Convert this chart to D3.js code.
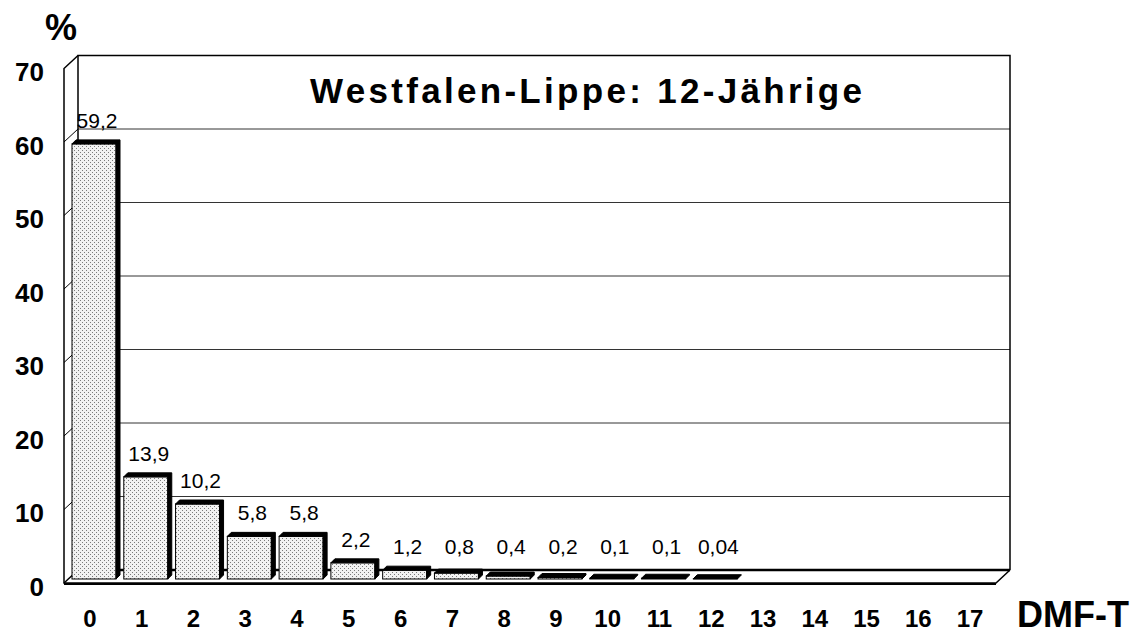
<!DOCTYPE html>
<html>
<head>
<meta charset="utf-8">
<script src="https://cdn.jsdelivr.net/npm/d3@7"></script>
<style>
  body { margin: 0; background: #fff; }
  text { font-family: Arial, "Liberation Sans", sans-serif; }
</style>
</head>
<body>
<div id="chart"></div>
<script>
// data
const categories = d3.range(0, 18).map(String);
const values = [59.2, 13.9, 10.2, 5.8, 5.8, 2.2, 1.2, 0.8, 0.4, 0.2, 0.1, 0.1, 0.04];
const yTicks = [0, 10, 20, 30, 40, 50, 60, 70];
const title = "Westfalen-Lippe: 12-Jährige";

const W = 1135, H = 636;
// back wall box and 3d depth
const back = {left: 78, right: 1010, top: 55.5, bottom: 570};
const depth = {dx: -14, dy: 13};

const svg = d3.select('#chart')
  .append('svg')
  .attr('width', W)
  .attr('height', H);

// stipple pattern for bars
const pat = svg.append('defs').append('pattern')
  .attr('id', 'dots')
  .attr('width', 4).attr('height', 4)
  .attr('patternUnits', 'userSpaceOnUse');
pat.append('rect').attr('width', 4).attr('height', 4).attr('fill', '#f2f2f2');
pat.append('rect').attr('x', 0).attr('y', 0).attr('width', 1).attr('height', 1).attr('fill', '#7a7a7a');
pat.append('rect').attr('x', 2).attr('y', 2).attr('width', 1).attr('height', 1).attr('fill', '#7a7a7a');

const y = d3.scaleLinear()
  .domain([0, 70])
  .range([back.bottom, back.top]);

const x = d3.scaleBand()
  .domain(categories)
  .range([back.left + depth.dx, back.right + depth.dx]);

// gridlines on back wall
svg.append('g')
  .selectAll('line')
  .data(yTicks.filter(d => d > 0 && d < 70))
  .enter()
  .append('line')
  .attr('x1', back.left).attr('x2', back.right)
  .attr('y1', d => y(d)).attr('y2', d => y(d))
  .style('stroke', '#333')
  .style('stroke-width', 1);

// diagonal ticks on the left side wall
svg.append('g')
  .selectAll('line')
  .data(yTicks.filter(d => d > 0 && d < 70))
  .enter()
  .append('line')
  .attr('x1', back.left).attr('x2', back.left + depth.dx)
  .attr('y1', d => y(d)).attr('y2', d => y(d) + depth.dy)
  .style('stroke', '#000');

// back wall outline
svg.append('path')
  .attr('d', `M${back.left},${back.bottom}V${back.top}H${back.right}V${back.bottom}`)
  .style('fill', 'none')
  .style('stroke', '#000')
  .style('stroke-width', 1.5);

// back floor line
svg.append('line')
  .attr('x1', back.left).attr('x2', back.right)
  .attr('y1', back.bottom).attr('y2', back.bottom)
  .style('stroke', '#000')
  .style('stroke-width', 2.5);

// left side wall + floor
const fl = back.left + depth.dx, fr = back.right + depth.dx, fb = back.bottom + depth.dy;
svg.append('path')
  .attr('d', `M${back.left},${back.top}L${fl},${back.top + depth.dy}V${fb}H${fr}L${back.right},${back.bottom}`)
  .style('fill', 'none')
  .style('stroke', '#000')
  .style('stroke-width', 1.5);
svg.append('line')
  .attr('x1', fl).attr('x2', back.left)
  .attr('y1', fb).attr('y2', back.bottom)
  .style('stroke', '#000')
  .style('stroke-width', 1.5);
svg.append('line')
  .attr('x1', fl).attr('x2', fr)
  .attr('y1', fb + 1).attr('y2', fb + 1)
  .style('stroke', '#000')
  .style('stroke-width', 2);

// bars
const barOff = 9;      // bars sit a little in front of the back wall
const bw = 44, bd = 4;
const bars = svg.append('g')
  .selectAll('g')
  .data(values)
  .enter()
  .append('g');

function barX(i) { return x(categories[i]) + 8; }
function barTop(v) { return y(v) + barOff; }
const barBottom = y(0) + barOff;

bars.append('rect')
  .attr('x', (d, i) => barX(i))
  .attr('y', d => barTop(d))
  .attr('width', bw)
  .attr('height', d => barBottom - barTop(d))
  .style('fill', 'url(#dots)')
  .style('stroke', '#000')
  .style('stroke-width', 1);

bars.append('path')
  .attr('d', (d, i) => {
    const x0 = barX(i), t = barTop(d);
    return `M${x0},${t}L${x0 + bd},${t - bd}H${x0 + bw + bd}V${barBottom - bd}L${x0 + bw},${barBottom}V${t}Z`;
  })
  .style('fill', '#000')
  .style('stroke', '#000')
  .style('stroke-width', 1);

bars.append('text')
  .attr('x', (d, i) => barX(i) + bw / 2 + 3)
  .attr('y', d => Math.min(barTop(d) - 16, 554))
  .attr('text-anchor', 'middle')
  .style('font-size', '21px')
  .text(d => String(d).replace('.', ','));

// y axis labels at the front edge
const yFront = d3.scaleLinear()
  .domain([0, 70])
  .range([back.bottom + depth.dy + 4, back.top + depth.dy + 4]);

const yAxis = svg.append('g')
  .attr('transform', 'translate(44,0)')
  .call(d3.axisLeft(yFront).tickValues(yTicks).tickSize(0).tickPadding(0));
yAxis.select('.domain').remove();
yAxis.selectAll('text')
  .style('font-family', 'Arial, "Liberation Sans", sans-serif')
  .style('font-size', '26px')
  .style('font-weight', 'bold')
  .style('fill', '#000');

// x axis labels
const xAxis = svg.append('g')
  .attr('transform', 'translate(0,610)')
  .call(d3.axisBottom(x).tickSize(0).tickPadding(0));
xAxis.select('.domain').remove();
xAxis.selectAll('text')
  .attr('dy', '0.71em')
  .style('font-family', 'Arial, "Liberation Sans", sans-serif')
  .style('font-size', '24px')
  .style('font-weight', 'bold')
  .style('fill', '#000');

// title and axis captions
svg.append('text')
  .attr('x', 586)
  .attr('y', 103)
  .attr('text-anchor', 'middle')
  .attr('textLength', 552)
  .attr('lengthAdjust', 'spacing')
  .style('font-size', '35px')
  .style('font-weight', 'bold')
  .text(title);

svg.append('text')
  .attr('x', 61)
  .attr('y', 40)
  .attr('text-anchor', 'middle')
  .style('font-size', '36px')
  .style('font-weight', 'bold')
  .text('%');

svg.append('text')
  .attr('x', 1129)
  .attr('y', 627)
  .attr('text-anchor', 'end')
  .style('font-size', '36px')
  .style('font-weight', 'bold')
  .text('DMF-T');
</script>
</body>
</html>
